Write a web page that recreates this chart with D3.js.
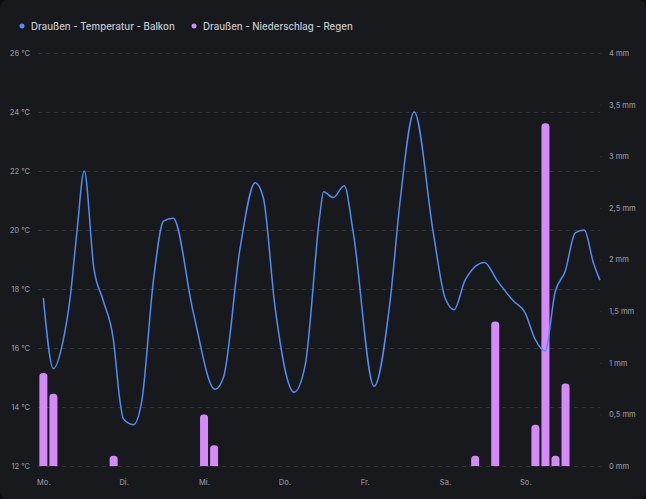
<!DOCTYPE html>
<html>
<head>
<meta charset="utf-8">
<script src="https://cdn.jsdelivr.net/npm/d3@7"></script>
<style>
  body { margin: 0; background: #0e0f11; }
  svg { display: block; font-family: Inter, "Noto Sans", sans-serif; }
</style>
</head>
<body>
<div id="chart"></div>
<script>
var svgWidth = 646;
var svgHeight = 499;

// temperature readings: hour since Monday 00:00 and °C
var tempHours = [0, 3, 6, 8, 10, 12.2, 15.1, 17.9, 20.9, 22.9, 23.9, 26.9, 29.4, 32.9, 35.9, 38.8,
  44.8, 51.3, 53.8, 58.8, 63.3, 65.7, 69.2, 74.9, 78.2, 82.7, 83.7, 86.6, 89.9, 92.6,
  98.8, 103.6, 106.6, 110.8, 116.5, 120, 122.7, 126, 131.8, 135.5, 140.4, 143.9, 146.9,
  149.9, 152.9, 155.9, 158.9, 161.6, 164.3, 166.3];
var tempValues = [17.7, 15.3, 16.3, 17.7, 19.9, 22.0, 18.7, 17.6, 16.3, 14.2, 13.6, 13.4, 14.2, 18.3, 20.3, 20.4,
  17.2, 14.6, 15.0, 19.4, 21.6, 21.1, 17.4, 14.5, 15.4, 20.6, 21.3, 21.1, 21.5, 19.9,
  14.7, 17.6, 21.0, 24.0, 19.9, 17.7, 17.3, 18.3, 18.9, 18.3, 17.6, 17.2, 16.3,
  15.9, 17.9, 18.6, 19.9, 20.0, 18.9, 18.3];

// rain in 3-hour buckets: bucket start hour and mm
var rainHours = [0, 3, 21, 48, 51, 129, 135, 147, 150, 153, 156];
var rainValues = [0.9, 0.7, 0.1, 0.5, 0.2, 0.1, 1.4, 0.4, 3.32, 0.1, 0.8];

var dayLabels = ["Mo.", "Di.", "Mi.", "Do.", "Fr.", "Sa.", "So."];
var tempTicks = [12, 14, 16, 18, 20, 22, 24, 26];
var rainTicks = [0, 0.5, 1, 1.5, 2, 2.5, 3, 3.5, 4];

var seriesNames = ["Draußen - Temperatur - Balkon", "Draußen - Niederschlag - Regen"];
var seriesColors = ["#4f8ef5", "#d48bf8"];

var svg = d3.select("#chart")
  .append("svg")
  .attr("width", svgWidth)
  .attr("height", svgHeight);

// card background
svg.append("rect")
  .attr("width", svgWidth)
  .attr("height", svgHeight)
  .attr("rx", 8)
  .attr("fill", "#18191d");

var xScale = d3.scaleLinear().domain([-1.6, 166.3]).range([38, 600]);
var yTemp = d3.scaleLinear().domain([12, 26]).range([466, 53]);
var yRain = d3.scaleLinear().domain([0, 4]).range([466, 53]);

// grid lines
svg.append("g").selectAll("line")
  .data(tempTicks)
  .enter()
  .append("line")
  .attr("x1", 38)
  .attr("x2", 600)
  .attr("y1", d => yTemp(d) + 0.5)
  .attr("y2", d => yTemp(d) + 0.5)
  .attr("stroke", "#35373c")
  .attr("stroke-dasharray", "4,4");

// left axis
var leftAxis = d3.axisLeft(yTemp)
  .tickValues(tempTicks)
  .tickSize(0)
  .tickPadding(0)
  .tickFormat(d => d + " °C");
var gl = svg.append("g")
  .attr("transform", "translate(30,0)")
  .call(leftAxis);
gl.select(".domain").remove();
gl.selectAll("text")
  .attr("fill", "#8d8f96")
  .attr("font-size", "7.5px")
  .attr("font-weight", 500)
  .attr("font-family", "Inter, sans-serif");

// right axis
var rightAxis = d3.axisRight(yRain)
  .tickValues(rainTicks)
  .tickSize(2)
  .tickPadding(7)
  .tickFormat(d => String(d).replace(".", ",") + " mm");
var gr = svg.append("g")
  .attr("transform", "translate(600,0)")
  .call(rightAxis);
gr.select(".domain").remove();
gr.selectAll("line").attr("stroke", "#2a2c31");
gr.selectAll("text")
  .attr("fill", "#8d8f96")
  .attr("font-size", "7.5px")
  .attr("font-weight", 500)
  .attr("font-family", "Inter, sans-serif");

// bottom axis with day labels
var bottomAxis = d3.axisBottom(xScale)
  .tickValues(dayLabels.map((d, i) => i * 24))
  .tickSize(0)
  .tickPadding(0)
  .tickFormat((d, i) => dayLabels[i]);
var gb = svg.append("g")
  .attr("transform", "translate(0,480)")
  .call(bottomAxis);
gb.select(".domain").remove();
gb.selectAll("text")
  .attr("fill", "#8d8f96")
  .attr("font-size", "7.5px")
  .attr("font-weight", 500)
  .attr("font-family", "Inter, sans-serif");

// rain bars with rounded tops
var barW = 8;
var r = 3.5;
svg.append("g").selectAll("path")
  .data(rainHours)
  .enter()
  .append("path")
  .attr("d", function(h, i) {
    var x0 = xScale(h) - barW / 2;
    var x1 = x0 + barW;
    var yb = yRain(0);
    var yt = yRain(rainValues[i]);
    var rr = Math.min(r, (yb - yt));
    return "M" + x0 + "," + yb +
      "L" + x0 + "," + (yt + rr) +
      "Q" + x0 + "," + yt + " " + (x0 + rr) + "," + yt +
      "L" + (x1 - rr) + "," + yt +
      "Q" + x1 + "," + yt + " " + x1 + "," + (yt + rr) +
      "L" + x1 + "," + yb + "Z";
  })
  .attr("fill", seriesColors[1]);

// temperature line
var line = d3.line()
  .x((d, i) => xScale(tempHours[i]))
  .y(d => yTemp(d))
  .curve(d3.curveMonotoneX);

svg.append("path")
  .datum(tempValues)
  .attr("d", line)
  .attr("fill", "none")
  .attr("stroke", seriesColors[0])
  .attr("stroke-width", 1.5);

// legend
var legendX = [22, 194];
var legend = svg.append("g");
seriesNames.forEach(function(name, i) {
  legend.append("circle")
    .attr("cx", legendX[i])
    .attr("cy", 26)
    .attr("r", 2.5)
    .attr("fill", seriesColors[i]);
  legend.append("text")
    .attr("x", legendX[i] + 9)
    .attr("y", 29.5)
    .attr("fill", "#c5c7ce")
    .attr("font-size", "9.7px")
    .attr("font-weight", 500)
    .text(name);
});
</script>
</body>
</html>
